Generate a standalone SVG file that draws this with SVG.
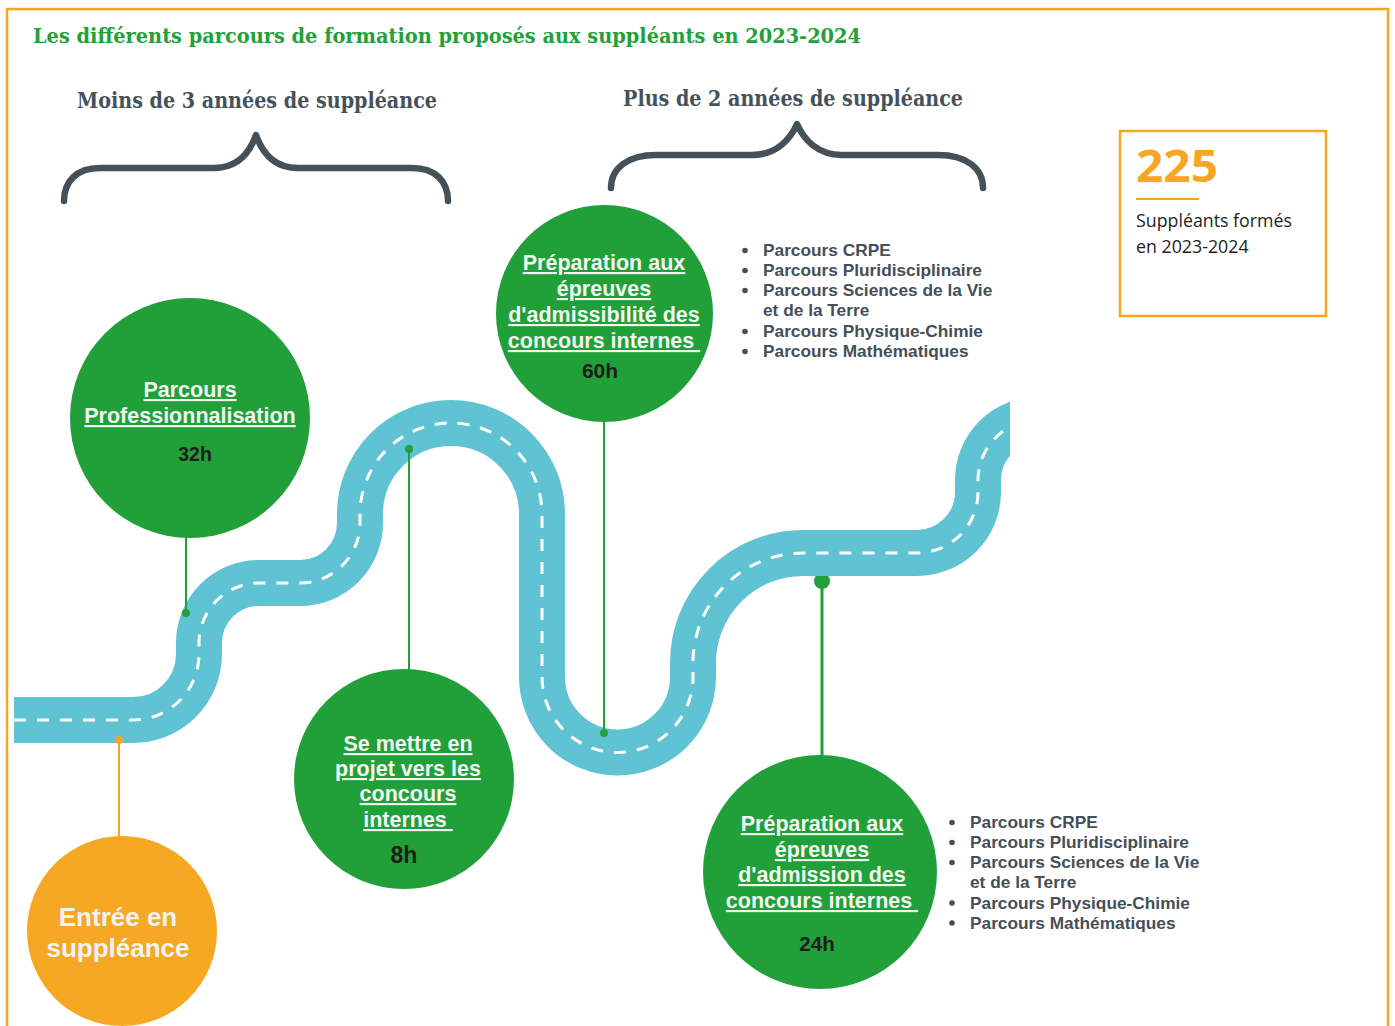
<svg xmlns="http://www.w3.org/2000/svg" width="1395" height="1026" viewBox="0 0 1395 1026">
<defs>
<style>
.title{font-family:"DejaVu Serif Condensed","DejaVu Serif",serif;font-stretch:condensed;font-weight:bold;font-size:20px;fill:#22a03a}
.head{font-family:"DejaVu Serif Condensed","DejaVu Serif",serif;font-stretch:condensed;font-weight:bold;font-size:21.5px;fill:#46525a}
.brace{fill:none;stroke:#455159;stroke-width:6.5;stroke-linecap:round;stroke-linejoin:round}
.road{fill:none;stroke:#60c3d3;stroke-width:46}
.dash{fill:none;stroke:#ffffff;stroke-width:3;stroke-dasharray:12 11}
.gc{fill:#21a039}
.oc{fill:#f6a823}
.ct{font-family:"Liberation Sans",Arial,sans-serif;font-weight:bold;font-size:21.5px;fill:#f2f6f3;text-anchor:middle;text-decoration:underline}
.hrs{font-family:"Liberation Sans",Arial,sans-serif;font-weight:bold;fill:#1d1d1b;text-anchor:middle}
.ot{font-family:"Liberation Sans",Arial,sans-serif;font-weight:bold;font-size:26px;fill:#f0f3f5;text-anchor:middle}
.li{font-family:"Liberation Sans",Arial,sans-serif;font-weight:bold;font-size:17.3px;fill:#444f57}
.bul{fill:#444f57}
.gl{stroke:#22a03a;stroke-width:2;fill:none}
.gd{fill:#22a03a}
.st{font-family:"Open Sans","Liberation Sans",sans-serif;font-size:17.8px;fill:#1e1e1e}
</style>
<clipPath id="roadclip"><rect x="0" y="0" width="1010" height="1026"/></clipPath>
</defs>
<rect x="0" y="0" width="1395" height="1026" fill="#ffffff"/>
<rect x="7" y="9" width="1381" height="1030" fill="none" stroke="#f5a623" stroke-width="2.5"/>

<text class="title" x="33" y="43" textLength="828" lengthAdjust="spacingAndGlyphs">Les différents parcours de formation proposés aux suppléants en 2023-2024</text>

<g id="group-moins">
<text class="head" x="77" y="108" textLength="360" lengthAdjust="spacingAndGlyphs">Moins de 3 années de suppléance</text>
<path class="brace" d="M64,201 C64,182 76,168 100,168 L214,168 C238,168 250,152 256,135 C262,152 274,168 298,168 L412,168 C436,168 448,182 448,201"/>
</g>
<g id="group-plus">
<text class="head" x="623" y="106" textLength="340" lengthAdjust="spacingAndGlyphs">Plus de 2 années de suppléance</text>
<path class="brace" d="M611,188 C611,168 628,155 656,155 L752,155 C776,155 790,140 797,124 C804,140 818,155 842,155 L938,155 C966,155 983,168 983,188"/>
</g>

<g id="connectors">
<line x1="822" y1="581" x2="822" y2="756" stroke="#22a03a" stroke-width="3"/>
<circle cx="822" cy="581" r="8" class="gd"/>
</g>

<g id="road" clip-path="url(#roadclip)">
<path class="road" d="M14,720 H133 A66,66 0 0 0 199,654 V643 A60,60 0 0 1 259,583 H300 A60,60 0 0 0 360,523 V514 A91,91 0 0 1 542,514 V677 A75.5,75.5 0 0 0 693,677 V663 A110,110 0 0 1 803,553 H917 A61,61 0 0 0 978,492 V480 A60,60 0 0 1 1038,420 H1080"/>
<path class="dash" d="M14,720 H133 A66,66 0 0 0 199,654 V643 A60,60 0 0 1 259,583 H300 A60,60 0 0 0 360,523 V514 A91,91 0 0 1 542,514 V677 A75.5,75.5 0 0 0 693,677 V663 A110,110 0 0 1 803,553 H917 A61,61 0 0 0 978,492 V480 A60,60 0 0 1 1038,420 H1080"/>
</g>

<g id="connectors-top">
<line class="gl" x1="186" y1="536" x2="186" y2="613"/>
<circle cx="186" cy="613" r="4" class="gd"/>
<line class="gl" x1="409" y1="449" x2="409" y2="671"/>
<circle cx="409" cy="449" r="4" class="gd"/>
<line class="gl" x1="604" y1="420" x2="604" y2="733"/>
<circle cx="604" cy="733" r="4" class="gd"/>
<line x1="119" y1="740" x2="119" y2="838" stroke="#f5a623" stroke-width="2"/>
<circle cx="119" cy="740" r="4" fill="#f5a623"/>
</g>

<g id="node-professionnalisation">
<circle class="gc" cx="190" cy="418" r="120"/>
<text class="ct" x="190" y="397">Parcours</text>
<text class="ct" x="190" y="423">Professionnalisation</text>
<text class="hrs" x="195" y="461" font-size="19.5">32h</text>
</g>

<g id="node-admissibilite">
<circle class="gc" cx="604.5" cy="313.5" r="108.5"/>
<text class="ct" x="604" y="270">Préparation aux</text>
<text class="ct" x="604" y="296">épreuves</text>
<text class="ct" x="604" y="322">d'admissibilité des</text>
<text class="ct" x="604" y="348">concours internes&#160;</text>
<text class="hrs" x="600" y="378" font-size="21">60h</text>
</g>

<g id="node-projet">
<circle class="gc" cx="404" cy="779" r="110"/>
<text class="ct" x="408" y="751">Se mettre en</text>
<text class="ct" x="408" y="776">projet vers les</text>
<text class="ct" x="408" y="801">concours</text>
<text class="ct" x="408" y="827">internes&#160;</text>
<text class="hrs" x="404" y="863" font-size="23">8h</text>
</g>

<g id="node-admission">
<circle class="gc" cx="820" cy="872" r="117"/>
<text class="ct" x="822" y="831">Préparation aux</text>
<text class="ct" x="822" y="857">épreuves</text>
<text class="ct" x="822" y="882">d'admission des</text>
<text class="ct" x="822" y="908">concours internes&#160;</text>
<text class="hrs" x="817" y="951" font-size="20.5">24h</text>
</g>

<g id="node-entree">
<circle class="oc" cx="122" cy="931" r="95"/>
<text class="ot" x="118" y="926">Entrée en</text>
<text class="ot" x="118" y="957">suppléance</text>
</g>

<g id="list-admissibilite">
<circle class="bul" cx="745" cy="250.5" r="2.8"/>
<circle class="bul" cx="745" cy="270.5" r="2.8"/>
<circle class="bul" cx="745" cy="290.5" r="2.8"/>
<circle class="bul" cx="745" cy="331.5" r="2.8"/>
<circle class="bul" cx="745" cy="351.5" r="2.8"/>
<text class="li" x="763" y="256">Parcours CRPE</text>
<text class="li" x="763" y="276">Parcours Pluridisciplinaire</text>
<text class="li" x="763" y="296">Parcours Sciences de la Vie</text>
<text class="li" x="763" y="316">et de la Terre</text>
<text class="li" x="763" y="337">Parcours Physique-Chimie</text>
<text class="li" x="763" y="357">Parcours Mathématiques</text>
</g>

<g id="list-admission">
<circle class="bul" cx="952" cy="822.5" r="2.8"/>
<circle class="bul" cx="952" cy="842.5" r="2.8"/>
<circle class="bul" cx="952" cy="862.5" r="2.8"/>
<circle class="bul" cx="952" cy="903" r="2.8"/>
<circle class="bul" cx="952" cy="923" r="2.8"/>
<text class="li" x="970" y="828">Parcours CRPE</text>
<text class="li" x="970" y="848">Parcours Pluridisciplinaire</text>
<text class="li" x="970" y="868">Parcours Sciences de la Vie</text>
<text class="li" x="970" y="888">et de la Terre</text>
<text class="li" x="970" y="908.5">Parcours Physique-Chimie</text>
<text class="li" x="970" y="928.5">Parcours Mathématiques</text>
</g>

<g id="stat-box">
<rect x="1120" y="131" width="206" height="185" fill="none" stroke="#f5a623" stroke-width="2.5"/>
<text x="1136" y="182" font-family="'Open Sans','Liberation Sans',sans-serif" font-weight="bold" font-size="44" fill="#f5a623" textLength="82" lengthAdjust="spacingAndGlyphs">225</text>
<line x1="1136" y1="199" x2="1199" y2="199" stroke="#f5a623" stroke-width="2"/>
<text class="st" x="1136" y="227">Suppléants formés</text>
<text class="st" x="1136" y="253">en 2023-2024</text>
</g>
</svg>
